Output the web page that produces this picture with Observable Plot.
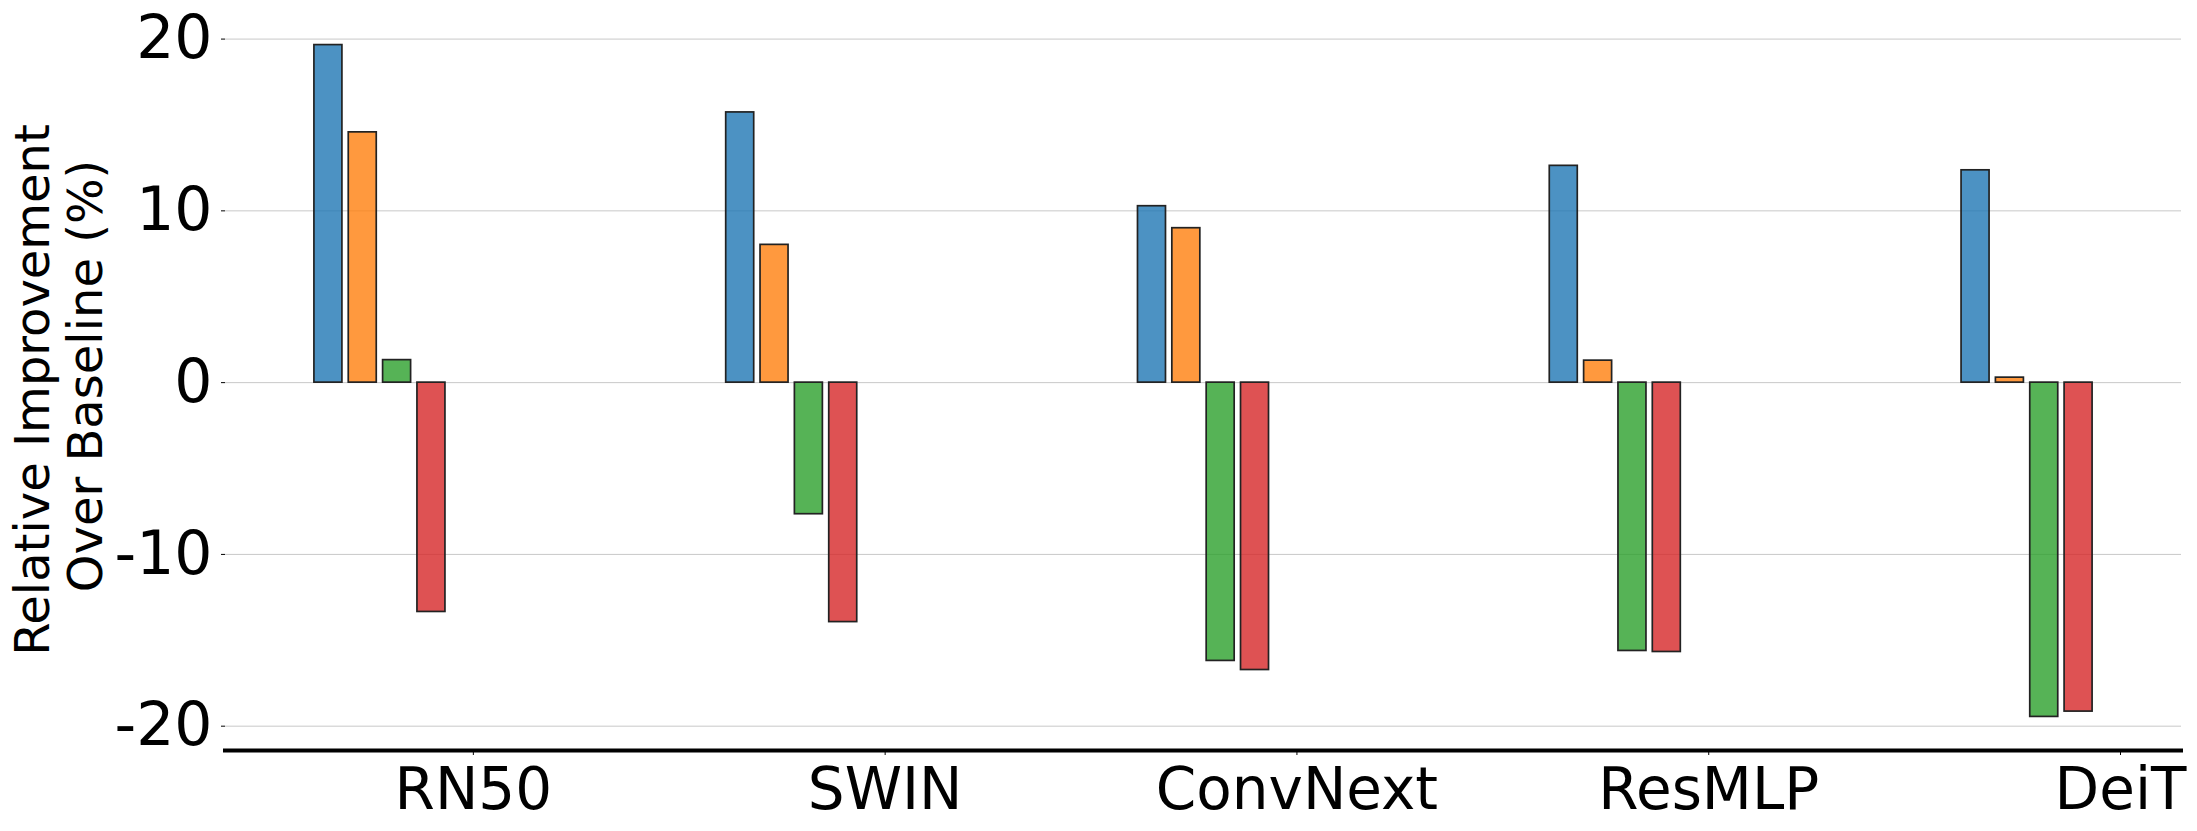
<!DOCTYPE html>
<html>
<head>
<meta charset="utf-8">
<script src="https://cdn.jsdelivr.net/npm/d3@7"></script>
<script src="https://cdn.jsdelivr.net/npm/@observablehq/plot@0.6"></script>
<style>
  html, body { margin: 0; padding: 0; background: #fff; }
  #chart svg { display: block; }
</style>
</head>
<body>
<div id="chart"></div>
<script>
// ---- data ----
const models = ["RN50", "SWIN", "ConvNext", "ResMLP", "DeiT"];
const seriesNames = ["Series 1", "Series 2", "Series 3", "Series 4"];
const series1 = [19.65, 15.73, 10.27, 12.62, 12.36];
const series2 = [14.57, 8.02, 8.99, 1.28, 0.29];
const series3 = [1.31, -7.66, -16.2, -15.62, -19.46];
const series4 = [-13.35, -13.94, -16.73, -15.68, -19.15];
const yTicks = [-20, -10, 0, 10, 20];
const yLabelLines = ["Relative Improvement", "Over Baseline (%)"];
const colors = ["#1f77b4", "#ff7f0e", "#2ca02c", "#d62728"];

// ---- layout constants (group geometry in x-units) ----
const groupStart = -0.352;
const barStep = 0.0834;
const barWidth = 0.068;

const allSeries = [series1, series2, series3, series4];
const rows = [];
allSeries.forEach((vals, si) => {
  vals.forEach((v, gi) => {
    const c = gi + groupStart + si * barStep;
    rows.push({model: models[gi], series: seriesNames[si], value: v,
               x1: c - barWidth / 2, x2: c + barWidth / 2});
  });
});

const xMin = d3.min(rows, d => d.x1), xMax = d3.max(rows, d => d.x2);
const xPad = 0.05 * (xMax - xMin);
const yMin = d3.min(rows, d => d.value), yMax = d3.max(rows, d => d.value);
const yPad = 0.05 * (yMax - yMin);
const yDomain = [yMin - yPad, yMax + yPad];

const W = 2197, H = 831;
const marginLeft = 225, marginRight = 16, marginTop = 11, marginBottom = 81;

const chart = Plot.plot({
  width: W,
  height: H,
  marginLeft, marginRight, marginTop, marginBottom,
  style: {fontFamily: "'DejaVu Sans', sans-serif", background: "#fff", color: "#000"},
  x: {domain: [xMin - xPad, xMax + xPad]},
  y: {domain: yDomain},
  color: {domain: seriesNames, range: colors},
  marks: [
    Plot.gridY(yTicks, {stroke: "#c8c8c8", strokeOpacity: 1, strokeWidth: 1}),
    Plot.rectY(rows, {
      x1: "x1", x2: "x2", y1: () => 0, y2: "value",
      fill: "series", fillOpacity: 0.8,
      stroke: "#222", strokeWidth: 1.7
    }),
    Plot.ruleY([yDomain[0]], {stroke: "#000", strokeWidth: 4, strokeLinecap: "square"}),
    Plot.axisY({
      ticks: yTicks, tickFormat: d => String(d), tickSize: 4, tickPadding: 9,
      fontSize: 60, label: null, stroke: "#000"
    }),
    Plot.axisX({
      ticks: d3.range(models.length), tickFormat: i => models[i],
      tickSize: 5, tickPadding: 12, fontSize: 58, label: null, stroke: "#000"
    }),
    Plot.text([yLabelLines[0]], {
      text: d => d, frameAnchor: "left", rotate: -90, textAnchor: "middle",
      lineAnchor: "bottom", fontSize: 48, fill: "#000", dx: -177, dy: 9
    }),
    Plot.text([yLabelLines[1]], {
      text: d => d, frameAnchor: "left", rotate: -90, textAnchor: "middle",
      lineAnchor: "bottom", fontSize: 48, fill: "#000", dx: -123.3, dy: -5
    })
  ]
});
document.getElementById("chart").appendChild(chart);
</script>
</body>
</html>
